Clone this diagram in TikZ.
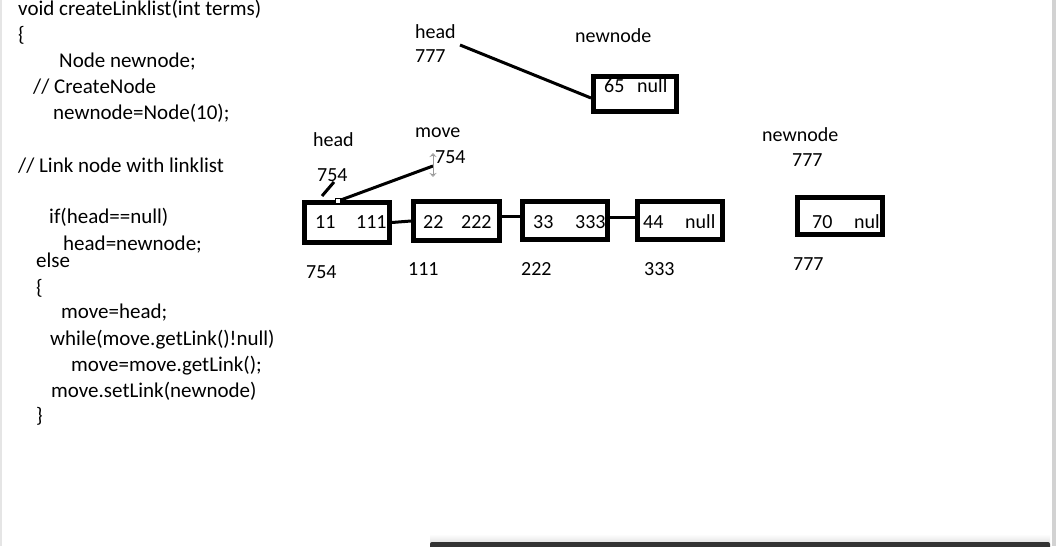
\documentclass[tikz,border=0pt]{standalone}
\usepackage{fontspec}
\setmainfont{Carlito}
\usetikzlibrary{arrows.meta}
\begin{document}
\begin{tikzpicture}[x=1pt,y=-1pt,
  code/.style={anchor=base west,inner sep=0pt,font=\fontsize{21}{21}\selectfont},
  lbl/.style={anchor=base west,inner sep=0pt,font=\fontsize{20}{20}\selectfont},
  cell/.style={draw,line width=5pt,inner sep=0pt},
  link/.style={line width=3pt}]
\useasboundingbox (0,0) rectangle (1056,546);
\fill[white] (0,0) rectangle (1056,546);
% window edges
\fill[gray!20] (0,0) rectangle (1.5,546);
\fill[gray!35] (1052,0) rectangle (1056,546);
\shade[top color=white,bottom color=gray!22] (430,534) rectangle (1050,543);
\fill[black!80,rounded corners=2pt] (430,542) rectangle (1050,552);

% code
\node[code] (c1) at (18,15) {void createLinklist(int terms)};
\node[code] (c2) at (18,41) {\{};
\node[code] (c3) at (59,67) {Node newnode;};
\node[code] (c4) at (33,93) {// CreateNode};
\node[code] (c5) at (53,119) {newnode=Node(10);};
\node[code] (c6) at (18,172) {// Link node with linklist};
\node[code] (c7) at (49,223) {if(head==null)};
\node[code] (c8) at (63,250) {head=newnode;};
\node[code] (c9) at (36,267) {else};
\node[code] (c10) at (36,294) {\{};
\node[code] (c11) at (61,318) {move=head;};
\node[code] (c12) at (50,345) {while(move.getLink()!null)};
\node[code] (c13) at (71,371) {move=move.getLink();};
\node[code] (c14) at (51,397) {move.setLink(newnode)};
\node[code] (c15) at (36,422) {\}};

% top: head 777 -> newnode 65
\node[lbl] (th) at (415,38) {head};
\node[lbl] (t777) at (415,62) {777};
\node[lbl] (tnn) at (575,42) {newnode};
\node[lbl] (t65) at (604,92) {65};
\node[lbl] (tnull) at (637,92) {null};
\node[cell,minimum width=83pt,minimum height=35pt] (top) at (635,94) {};
\coordinate (hs) at (460,45);
\draw[link] (hs) -- ([yshift=-4pt]top.west);

% labels over the list
\node[lbl] (lh) at (313,146) {head};
\node[lbl] (lh754) at (317,181) {754};
\node[lbl] (lm) at (415,137) {move};
\node[lbl] (lm754) at (435,163) {754};
\node[lbl] (rnn) at (762,141) {newnode};
\node[lbl] (r777) at (792,166) {777};

% cell texts
\node[lbl] (d1) at (315,228) {11};
\node[lbl] (p1) at (356,228) {111};
\node[lbl] (d2) at (423,228) {22};
\node[lbl] (p2) at (461,228) {222};
\node[lbl] (d3) at (533,228) {33};
\node[lbl] (p3) at (575,228) {333};
\node[lbl] (d4) at (643,228) {44};
\node[lbl] (p4) at (685,228) {null};
\node[lbl] (d5) at (812,228) {70};
\node[lbl] (p5) at (854,228) {nul};

% cells
\node[cell,minimum width=85pt,minimum height=40pt] (b1) at (347,222.5) {};
\node[cell,minimum width=86pt,minimum height=39pt] (b2) at (456.5,221) {};
\node[cell,minimum width=85pt,minimum height=38pt] (b3) at (565,220.5) {};
\node[cell,minimum width=85pt,minimum height=38pt] (b4) at (680,220.5) {};
\node[cell,minimum width=85pt,minimum height=37pt] (b5) at (840,216) {};

\draw[link] (b1.east) -- (b2.west);
\draw[link] ([yshift=5pt]b2.east) -- ([yshift=4.5pt]b3.west);
\draw[link] ([yshift=3.5pt]b3.east) -- ([yshift=3.5pt]b4.west);

% addresses
\node[lbl] (a1) at (306,278) {754};
\node[lbl] (a2) at (408,275) {111};
\node[lbl] (a3) at (521,275) {222};
\node[lbl] (a4) at (644,275) {333};
\node[lbl] (a5) at (793,270) {777};

% head pointer
\coordinate (hp) at (334,182);
\draw[link] ([xshift=-25pt,yshift=4pt]b1.north) -- (hp);
% move pointer
\node[draw,fill=white,line width=0.8pt,minimum size=5pt,inner sep=0pt] (hd) at (338,201) {};
\coordinate (mv) at (433,166);
\draw[link] (hd) -- (mv);
% cursor
\draw[gray!80,line width=1pt,{Stealth[open,length=4pt,width=7pt]}-{Stealth[open,length=4pt,width=7pt]}] (433,153) -- (433,177);
\end{tikzpicture}
\end{document}
